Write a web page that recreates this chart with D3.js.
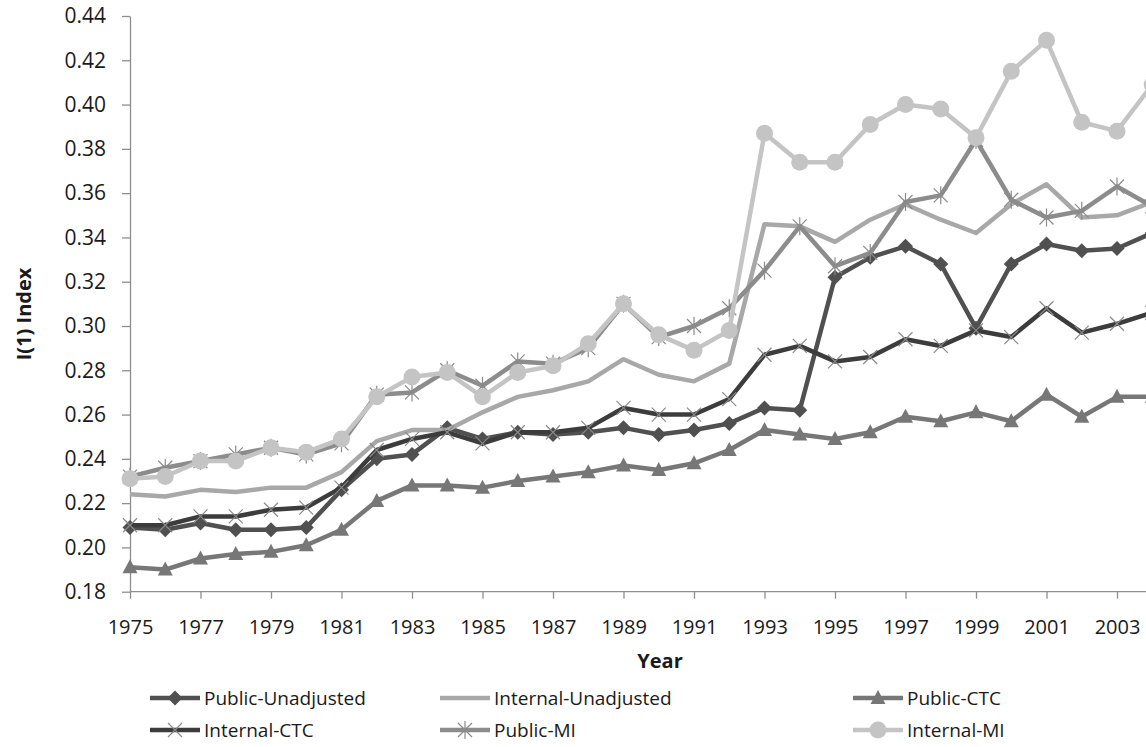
<!DOCTYPE html>
<html>
<head>
<meta charset="utf-8">
<script src="https://cdn.jsdelivr.net/npm/d3@7"></script>
<style>
    body { margin: 0; background: #fff; }
    svg { display: block; font-family: "Open Sans", "Noto Sans", sans-serif; }
</style>
</head>
<body>
<div id="graph"></div>
<script>
// years on the category axis, last one is cut off by the page edge
var years = [1975, 1976, 1977, 1978, 1979, 1980, 1981, 1982, 1983, 1984,
             1985, 1986, 1987, 1988, 1989, 1990, 1991, 1992, 1993, 1994,
             1995, 1996, 1997, 1998, 1999, 2000, 2001, 2002, 2003, 2004];
var xTickYears = [1975, 1977, 1979, 1981, 1983, 1985, 1987, 1989, 1991, 1993, 1995, 1997, 1999, 2001, 2003];
var yTicks = [0.18, 0.20, 0.22, 0.24, 0.26, 0.28, 0.30, 0.32, 0.34, 0.36, 0.38, 0.40, 0.42, 0.44];

var seriesNames = ["Public-Unadjusted", "Internal-Unadjusted", "Public-CTC", "Internal-CTC", "Public-MI", "Internal-MI"];

var publicUnadjusted = [0.209, 0.208, 0.211, 0.208, 0.208, 0.209, 0.226, 0.240, 0.242, 0.254,
                        0.249, 0.252, 0.251, 0.252, 0.254, 0.251, 0.253, 0.256, 0.263, 0.262,
                        0.322, 0.331, 0.336, 0.328, 0.299, 0.328, 0.337, 0.334, 0.335, 0.342];
var internalUnadjusted = [0.224, 0.223, 0.226, 0.225, 0.227, 0.227, 0.234, 0.248, 0.253, 0.253,
                          0.261, 0.268, 0.271, 0.275, 0.285, 0.278, 0.275, 0.283, 0.346, 0.345,
                          0.338, 0.348, 0.355, 0.348, 0.342, 0.355, 0.364, 0.349, 0.350, 0.356];
var publicCTC = [0.191, 0.190, 0.195, 0.197, 0.198, 0.201, 0.208, 0.221, 0.228, 0.228,
                 0.227, 0.230, 0.232, 0.234, 0.237, 0.235, 0.238, 0.244, 0.253, 0.251,
                 0.249, 0.252, 0.259, 0.257, 0.261, 0.257, 0.269, 0.259, 0.268, 0.268];
var internalCTC = [0.210, 0.210, 0.214, 0.214, 0.217, 0.218, 0.227, 0.244, 0.249, 0.252,
                   0.247, 0.252, 0.252, 0.254, 0.263, 0.260, 0.260, 0.267, 0.287, 0.291,
                   0.284, 0.286, 0.294, 0.291, 0.298, 0.295, 0.308, 0.297, 0.301, 0.306];
var publicMI = [0.232, 0.236, 0.239, 0.242, 0.245, 0.242, 0.247, 0.269, 0.270, 0.280,
                0.273, 0.284, 0.283, 0.290, 0.310, 0.295, 0.300, 0.308, 0.325, 0.345,
                0.327, 0.333, 0.356, 0.359, 0.384, 0.357, 0.349, 0.352, 0.363, 0.354];
var internalMI = [0.231, 0.232, 0.239, 0.239, 0.245, 0.243, 0.249, 0.268, 0.277, 0.279,
                  0.268, 0.279, 0.282, 0.292, 0.310, 0.296, 0.289, 0.298, 0.387, 0.374,
                  0.374, 0.391, 0.400, 0.398, 0.385, 0.415, 0.429, 0.392, 0.388, 0.409];

var W = 1146, H = 747;
var plotLeft = 130, plotTop = 16, plotBottom = 591.7;
var yearStep = 35.25;
var fontFam = "'Open Sans', 'Noto Sans', sans-serif";

var x = d3.scaleLinear().domain([1975, 1976]).range([plotLeft, plotLeft + yearStep]);
var y = d3.scaleLinear().domain([0.18, 0.44]).range([plotBottom, plotTop]);

var svg = d3.select("#graph").append("svg")
    .attr("width", W)
    .attr("height", H);

// marker shapes, excel style
function markerPath(type) {
    if (type == "diamond") return "M0,-7.5L7.5,0L0,7.5L-7.5,0Z";
    if (type == "triangle") return "M0,-8L7.5,6L-7.5,6Z";
    if (type == "x") return "M-7,-7L7,7M-7,7L7,-7";
    if (type == "star") return "M-7,-7L7,7M-7,7L7,-7M0,-9L0,9";
    return null;
}

var series = [
    {name: seriesNames[0], values: publicUnadjusted, color: "#505050", marker: "diamond"},
    {name: seriesNames[1], values: internalUnadjusted, color: "#a8a8a8", marker: "none"},
    {name: seriesNames[2], values: publicCTC, color: "#777777", marker: "triangle"},
    {name: seriesNames[3], values: internalCTC, color: "#3c3c3c", marker: "x"},
    {name: seriesNames[4], values: publicMI, color: "#8c8c8c", marker: "star"},
    {name: seriesNames[5], values: internalMI, color: "#c4c4c4", marker: "circle"}
];

function drawMarker(g, s) {
    if (s.marker == "none") return;
    if (s.marker == "circle") {
        g.append("circle").attr("r", 8.5).attr("fill", s.color);
    } else if (s.marker == "x" || s.marker == "star") {
        g.append("path").attr("d", markerPath(s.marker))
            .attr("fill", "none")
            .attr("stroke", "#8a8a8a")
            .attr("stroke-width", 1.2);
    } else {
        g.append("path").attr("d", markerPath(s.marker)).attr("fill", s.color);
    }
}

// Y axis
var yAxis = d3.axisLeft(y)
    .tickValues(yTicks)
    .tickFormat(d3.format(".2f"))
    .tickSize(8)
    .tickSizeOuter(0)
    .tickPadding(16);

var gy = svg.append("g")
    .attr("transform", "translate(" + plotLeft + ",0)")
    .call(yAxis)
    .attr("font-family", fontFam);
gy.select(".domain").attr("stroke", "#8e8e8e").attr("stroke-width", 1.3);
gy.selectAll(".tick line").attr("stroke", "#8e8e8e").attr("stroke-width", 1.3);
gy.selectAll(".tick text")
    .style("font-size", "21px")
    .attr("fill", "#1a1a1a");

// X axis
var xAxis = d3.axisBottom(x)
    .tickValues(xTickYears)
    .tickFormat(d3.format("d"))
    .tickSize(7)
    .tickSizeOuter(0)
    .tickPadding(21);

var gx = svg.append("g")
    .attr("transform", "translate(0," + plotBottom + ")")
    .call(xAxis)
    .attr("font-family", fontFam);
gx.select(".domain").attr("d", "M" + plotLeft + ",0H" + (W + 10)).attr("stroke", "#8e8e8e").attr("stroke-width", 1.3);
gx.selectAll(".tick line").attr("stroke", "#8e8e8e").attr("stroke-width", 1.3);
gx.selectAll(".tick text")
    .style("font-size", "20px")
    .attr("fill", "#1a1a1a");

// axis titles
svg.append("text")
    .attr("x", 660)
    .attr("y", 668)
    .attr("text-anchor", "middle")
    .style("font-size", "20px")
    .style("font-weight", "bold")
    .attr("fill", "#1a1a1a")
    .text("Year");

svg.append("text")
    .attr("transform", "translate(31,314) rotate(-90)")
    .attr("text-anchor", "middle")
    .style("font-size", "20px")
    .style("font-weight", "bold")
    .attr("fill", "#1a1a1a")
    .text("I(1) Index");

// Lines + markers
var line = d3.line()
    .x(function(d, i) { return x(years[i]); })
    .y(function(d) { return y(d); });

series.forEach(function(s) {
    var g = svg.append("g").attr("class", "series");
    g.append("path")
        .attr("d", line(s.values))
        .attr("fill", "none")
        .attr("stroke", s.color)
        .attr("stroke-width", 4.5)
        .attr("stroke-linejoin", "round");

    g.selectAll(".pt")
        .data(s.values)
        .enter().append("g")
        .attr("class", "pt")
        .attr("transform", function(d, i) { return "translate(" + x(years[i]) + "," + y(d) + ")"; })
        .each(function() { drawMarker(d3.select(this), s); });
});

// Legend
var legendPos = [
    {x: 150, y: 698}, {x: 440, y: 698}, {x: 853, y: 698},
    {x: 150, y: 730}, {x: 440, y: 730}, {x: 853, y: 730}
];

var legend = svg.append("g").attr("class", "legend");
series.forEach(function(s, i) {
    var p = legendPos[i];
    var g = legend.append("g").attr("transform", "translate(" + p.x + "," + p.y + ")");
    g.append("line")
        .attr("x1", 0).attr("x2", 50)
        .attr("y1", 0).attr("y2", 0)
        .attr("stroke", s.color)
        .attr("stroke-width", 4.5);
    var m = g.append("g").attr("transform", "translate(25,0)");
    drawMarker(m, s);
    g.append("text")
        .attr("x", 54)
        .attr("y", 0)
        .attr("dy", "0.35em")
        .style("font-size", "19px")
        .attr("fill", "#1a1a1a")
        .text(s.name);
});
</script>
</body>
</html>
